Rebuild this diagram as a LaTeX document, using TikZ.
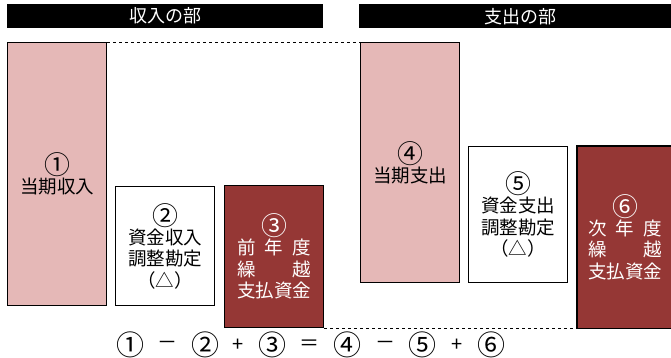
\documentclass[tikz,border=0pt]{standalone}
\usepackage{fontspec}
\setmainfont{Noto Sans CJK JP}
\definecolor{pinkc}{HTML}{E5B8B7}
\definecolor{darkred}{HTML}{953735}
\newcommand{\cdig}[1]{\raisebox{-0.13em}{\scalebox{1.4}{#1}}}
\begin{document}
\begin{tikzpicture}[x=1pt,y=-1pt,
  box/.style={draw=black,line width=1.3pt,minimum width=99pt,anchor=north west,inner sep=0pt},
  hdr/.style={fill=black,text=white,minimum height=24pt,anchor=north west,inner sep=0pt,font=\fontsize{18}{20}\selectfont},
  lbl/.style={align=center,inner sep=0pt,font=\fontsize{18.5}{21.5}\selectfont},
  eq/.style={inner sep=0pt,font=\fontsize{20}{22}\selectfont}]
\useasboundingbox (0,0) rectangle (671,358);
\fill[white] (0,0) rectangle (671,358);
% headers
\node[hdr,minimum width=316pt] (h1) at (7,4) {収入の部};
\node[hdr,minimum width=322pt] (h2) at (359,4) {支出の部};
% boxes
\node[box,fill=pinkc,minimum height=263pt] (b1) at (7,42) {};
\node[box,fill=white,minimum height=119pt] (b2) at (115,186) {};
\node[box,fill=darkred,minimum height=142pt] (b3) at (224,185) {};
\node[box,fill=pinkc,minimum height=240pt] (b4) at (360,42) {};
\node[box,fill=white,minimum height=136pt] (b5) at (468,146) {};
\node[box,draw=none,fill=darkred,minimum height=181pt] (b6) at (577,146) {};
\draw[line width=1.3pt] (b6.north east) -- (b6.north west) -- (b6.south west) -- (b6.south east);
% dashed connectors
\draw[dashed,line width=0.8pt] (b1.north east) -- (b4.north west);
\draw[dashed,line width=0.8pt] (b3.south east) -- (b6.south west);
% labels
\node[lbl] (t1) at (b1.center) {\cdig{①}\\当期収入};
\node[lbl] (t2) at (b2.center) {\cdig{②}\\資金収入\\調整勘定\\（△）};
\node[lbl,text=white] (t3) at (b3.center) {\cdig{③}\\\makebox[4em]{前\hfill 年\hfill 度}\\\makebox[4em]{繰\hfill 越}\\支払資金};
\node[lbl] (t4) at (b4.center) {\cdig{④}\\当期支出};
\node[lbl] (t5) at (b5.center) {\cdig{⑤}\\資金支出\\調整勘定\\（△）};
\node[lbl,text=white] (t6) at ([xshift=-2pt]b6.center) {\cdig{⑥}\\\makebox[4em]{次\hfill 年\hfill 度}\\\makebox[4em]{繰\hfill 越}\\支払資金};
% equation
\node[eq] (e1) at (130,345) {\cdig{①}};
\node[eq] (e2) at (167,345) {－};
\node[eq] (e3) at (205,345) {\cdig{②}};
\node[eq] (e4) at (238,345) {+};
\node[eq] (e5) at (272,345) {\cdig{③}};
\node[eq] (e6) at (309,345) {＝};
\node[eq] (e7) at (347,345) {\cdig{④}};
\node[eq] (e8) at (385,345) {－};
\node[eq] (e9) at (422,345) {\cdig{⑤}};
\node[eq] (e10) at (457,345) {+};
\node[eq] (e11) at (491,345) {\cdig{⑥}};
\end{tikzpicture}
\end{document}
